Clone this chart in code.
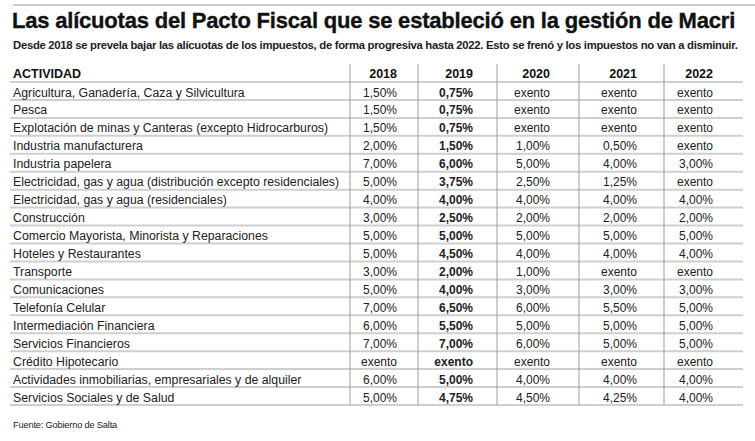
<!DOCTYPE html>
<html>
<head>
<meta charset="utf-8">
<script src="https://cdn.jsdelivr.net/npm/d3@7"></script>
<style>
  html, body { margin: 0; padding: 0; background: #fff; }
  svg { display: block; }
  text { font-family: 'Liberation Sans', Arial, sans-serif; }
</style>
</head>
<body>
<div id="chart"></div>
<script>
const width = 755
const height = 441

const title = 'Las alícuotas del Pacto Fiscal que se estableció en la gestión de Macri'
const subtitle = 'Desde 2018 se prevela bajar las alícuotas de los impuestos, de forma progresiva hasta 2022. Esto se frenó y los impuestos no van a disminuir.'
const source = 'Fuente: Gobierno de Salta'

const years = ['2018', '2019', '2020', '2021', '2022']

const activities = [
  'Agricultura, Ganadería, Caza y Silvicultura',
  'Pesca',
  'Explotación de minas y Canteras (excepto Hidrocarburos)',
  'Industria manufacturera',
  'Industria papelera',
  'Electricidad, gas y agua (distribución excepto residenciales)',
  'Electricidad, gas y agua (residenciales)',
  'Construcción',
  'Comercio Mayorista, Minorista y Reparaciones',
  'Hoteles y Restaurantes',
  'Transporte',
  'Comunicaciones',
  'Telefonía Celular',
  'Intermediación Financiera',
  'Servicios Financieros',
  'Crédito Hipotecario',
  'Actividades inmobiliarias, empresariales y de alquiler',
  'Servicios Sociales y de Salud'
]

// null = exento
const rates2018 = [1.5, 1.5, 1.5, 2, 7, 5, 4, 3, 5, 5, 3, 5, 7, 6, 7, null, 6, 5]
const rates2019 = [0.75, 0.75, 0.75, 1.5, 6, 3.75, 4, 2.5, 5, 4.5, 2, 4, 6.5, 5.5, 7, null, 5, 4.75]
const rates2020 = [null, null, null, 1, 5, 2.5, 4, 2, 5, 4, 1, 3, 6, 5, 6, null, 4, 4.5]
const rates2021 = [null, null, null, 0.5, 4, 1.25, 4, 2, 5, 4, null, 3, 5.5, 5, 5, null, 4, 4.25]
const rates2022 = [null, null, null, null, 3, null, 4, 2, 5, 4, null, 3, 5, 5, 5, null, 4, 4]

const series = [rates2018, rates2019, rates2020, rates2021, rates2022]

const locale = d3.formatLocale({ decimal: ',', thousands: '.', grouping: [3], currency: ['', '%'] })
const fmt = locale.format('.2f')
const label = v => (v === null ? 'exento' : fmt(v) + '%')

const svg = d3
  .select('#chart')
  .append('svg')
  .attr('width', width)
  .attr('height', height)

// top rule
svg
  .append('line')
  .attr('x1', 13)
  .attr('x2', width)
  .attr('y1', 5)
  .attr('y2', 5)
  .attr('stroke', '#bdbdbd')
  .attr('stroke-width', 1.5)

// fit a text to a given width by scaling its font size
function fitText(sel, targetWidth) {
  const node = sel.node()
  const w = node.getComputedTextLength()
  const fs = parseFloat(sel.attr('font-size'))
  sel.attr('font-size', (fs * targetWidth) / w)
}

svg
  .append('text')
  .attr('x', 12)
  .attr('y', 28)
  .attr('font-size', 20)
  .attr('font-weight', 700)
  .attr('fill', '#111')
  .attr('stroke', '#111')
  .attr('stroke-width', 0.35)
  .attr('letter-spacing', -0.2)
  .text(title)
  .call(fitText, 722)

svg
  .append('text')
  .attr('x', 13)
  .attr('y', 49)
  .attr('font-size', 10)
  .attr('font-weight', 700)
  .attr('fill', '#222')
  .attr('letter-spacing', -0.3)
  .text(subtitle)
  .call(fitText, 720)

const y = d3
  .scaleBand()
  .domain(d3.range(activities.length))
  .range([82, 405])

const colRight = d3
  .scaleOrdinal()
  .domain(years)
  .range([397, 473, 550, 637, 713])

const dividers = [350, 418, 497, 579, 664]

// row rules
svg
  .selectAll('.row-rule')
  .data(d3.range(activities.length + 1))
  .enter()
  .append('line')
  .attr('class', 'row-rule')
  .attr('x1', 10)
  .attr('x2', 743)
  .attr('y1', d => (d < activities.length ? y(d) : y.range()[1]))
  .attr('y2', d => (d < activities.length ? y(d) : y.range()[1]))
  .attr('stroke', '#cfcfcf')
  .attr('stroke-width', 2)

// column dividers
svg
  .selectAll('.col-rule')
  .data(dividers)
  .enter()
  .append('line')
  .attr('class', 'col-rule')
  .attr('x1', d => d)
  .attr('x2', d => d)
  .attr('y1', 64)
  .attr('y2', 405)
  .attr('stroke', '#9e9e9e')
  .attr('stroke-width', 1)

// header
svg
  .append('text')
  .attr('x', 13)
  .attr('y', 78)
  .attr('font-size', 12.5)
  .attr('font-weight', 700)
  .attr('fill', '#111')
  .text('ACTIVIDAD')

svg
  .selectAll('.year')
  .data(years)
  .enter()
  .append('text')
  .attr('class', 'year')
  .attr('x', d => colRight(d))
  .attr('y', 78)
  .attr('text-anchor', 'end')
  .attr('font-size', 12.5)
  .attr('font-weight', 700)
  .attr('fill', '#111')
  .text(d => d)

// activity names
svg
  .selectAll('.activity')
  .data(activities)
  .enter()
  .append('text')
  .attr('class', 'activity')
  .attr('x', 13)
  .attr('y', (d, i) => y(i) + 14.5)
  .attr('font-size', 12.3)
  .attr('fill', '#222')
  .text(d => d)

// values
series.forEach((values, j) => {
  svg
    .selectAll('.val-' + years[j])
    .data(values)
    .enter()
    .append('text')
    .attr('class', 'val-' + years[j])
    .attr('x', colRight(years[j]))
    .attr('y', (d, i) => y(i) + 14.5)
    .attr('text-anchor', 'end')
    .attr('font-size', 12)
    .attr('font-weight', j === 1 ? 700 : 400)
    .attr('fill', '#222')
    .text(d => label(d))
})

svg
  .append('text')
  .attr('x', 13)
  .attr('y', 428)
  .attr('font-size', 9.3)
  .attr('fill', '#222')
  .attr('letter-spacing', -0.2)
  .text(source)
</script>
</body>
</html>
